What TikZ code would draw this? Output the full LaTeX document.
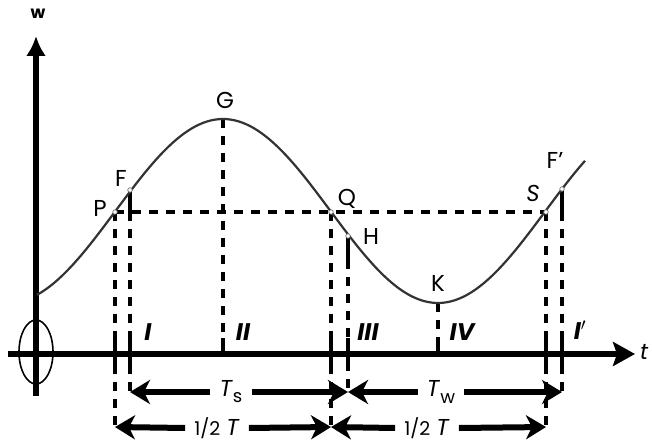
\documentclass[tikz,border=0pt]{standalone}
\usepackage{fontspec}
\setmainfont{Poppins}
\usetikzlibrary{arrows.meta}

\begin{document}
\begin{tikzpicture}[x=1pt,y=-1pt,>=Latex,line cap=butt]
\useasboundingbox[fill=white] (0,0) rectangle (652,443);
\tikzset{axis/.style={draw=black,line width=5.5pt},
  guide/.style={draw=black,line width=4pt,dash pattern=on 9pt off 8pt},
  tick/.style={draw=black,line width=4pt},
  wave/.style={draw=black!80,line width=2.2pt},
  dimline/.style={draw=black,line width=6pt,-{Stealth[length=20pt,width=24pt,inset=6pt]}},
  lbl/.style={font=\fontsize{23}{26}\selectfont,inner sep=1pt},
  zone/.style={font=\bfseries\itshape\fontsize{24}{26}\selectfont,inner sep=1pt},
  dimlbl/.style={font=\fontsize{23}{26}\selectfont,inner xsep=9pt,inner ysep=1pt},
  spot/.style={circle,draw=black!55,fill=white,line width=0.7pt,inner sep=0pt,minimum size=4.5pt}}
% axes
\coordinate (O) at (36,352);
\coordinate (wtop) at (36,36);
\coordinate (wbot) at (36,396);
\coordinate (tleft) at (8,354);
\coordinate (tright) at (635,354);
\coordinate (highrow) at (0,392);
\coordinate (lowrow) at (0,427);
\draw[axis,-{Latex[length=20pt,width=20pt]}] (wbot) -- (wtop);
\draw[axis,-{Stealth[length=22pt,width=24pt,inset=4pt]}] (tleft) -- (tright);
\draw[line width=1.6pt] (O) ellipse [x radius=17,y radius=32];
\node[font=\bfseries\fontsize{17}{19}\selectfont] (wlbl) at (38,14) {w};
\node[font=\itshape\fontsize{22}{24}\selectfont] (tlbl) at (644,352) {t};
% points on the wave
\coordinate (P) at (115,212);
\coordinate (F) at (130,190);
\coordinate (G) at (223,119);
\coordinate (Q) at (331,212);
\coordinate (H) at (348,236);
\coordinate (K) at (438,303);
\coordinate (S) at (546,212);
\coordinate (F') at (562,189);
% guide lines
\draw[guide] (P) -- (S);
\draw[guide] (G) -- (G |- O);
\draw[guide] (K) -- (K |- O);
\draw[guide] (P) -- (P |- lowrow);
\draw[guide] (Q) -- (Q |- lowrow);
\draw[guide] (S) -- (S |- lowrow);
\draw[tick] (F) -- (F |- P);
\draw[guide] (F |- P) -- (F |- highrow);
\draw[tick] (H) -- ++(0,24);
\draw[guide] (H) ++(0,24) -- (H |- highrow);
\draw[tick] (F') -- (F' |- P);
\draw[guide] (F' |- P) -- (F' |- highrow);
\foreach \p in {P,F,Q,H,S,F'}
  \draw[tick] (\p |- tleft) ++(0,-16) -- ++(0,32);
\foreach \p in {G,K}
  \draw[tick] (\p |- tleft) ++(0,-16) -- ++(0,16);
% the wave
\draw[wave] plot[domain=37:585,samples=140,smooth] (\x,{211-92*cos((\x-223)/215*180)});
\foreach \p in {P,F,Q,H,S,F'}
  \node[spot] at (\p) {};
% point labels
\node[lbl] (Plbl) at (100,208) {P};
\node[lbl] (Flbl) at (121,178) {F};
\node[lbl] (Glbl) at (225,100) {G};
\node[lbl] (Qlbl) at (347,199) {Q};
\node[lbl] (Hlbl) at (371,236) {H};
\node[lbl] (Klbl) at (438,283) {K};
\node[lbl,font=\itshape\fontsize{23}{26}\selectfont] (Slbl) at (533,193) {S};
\node[lbl] (F'lbl) at (555,160) {F'};
% zones
\node[zone] (z1) at (148,332) {I};
\node[zone] (z2) at (243,332) {II};
\node[zone] (z3) at (368,332) {III};
\node[zone] (z4) at (462,332) {IV};
\node[zone] (z5) at (580,330) {I$'$};
% periods
\node[dimlbl] (Ts) at (231,392) {\textit{T}\raisebox{-6pt}{\fontsize{18}{20}\selectfont s}};
\node[dimlbl] (Tw) at (441,392) {\textit{T}\raisebox{-7pt}{\fontsize{18}{20}\selectfont w}};
\node[dimlbl] (h1) at (217,428) {{\fontsize{19}{21}\selectfont 1/2} \textit{T}};
\node[dimlbl] (h2) at (427,428) {{\fontsize{19}{21}\selectfont 1/2} \textit{T}};
\draw[dimline] (Ts.west) -- (F |- highrow);
\draw[dimline] (Ts.east) -- (H |- highrow);
\draw[dimline] (Tw.west) -- (H |- highrow);
\draw[dimline] (Tw.east) -- (F' |- highrow);
\draw[dimline] (h1.west) -- (P |- lowrow);
\draw[dimline] (h1.east) -- (Q |- lowrow);
\draw[dimline] (h2.west) -- (Q |- lowrow);
\draw[dimline] (h2.east) -- (S |- lowrow);
\end{tikzpicture}
\end{document}
